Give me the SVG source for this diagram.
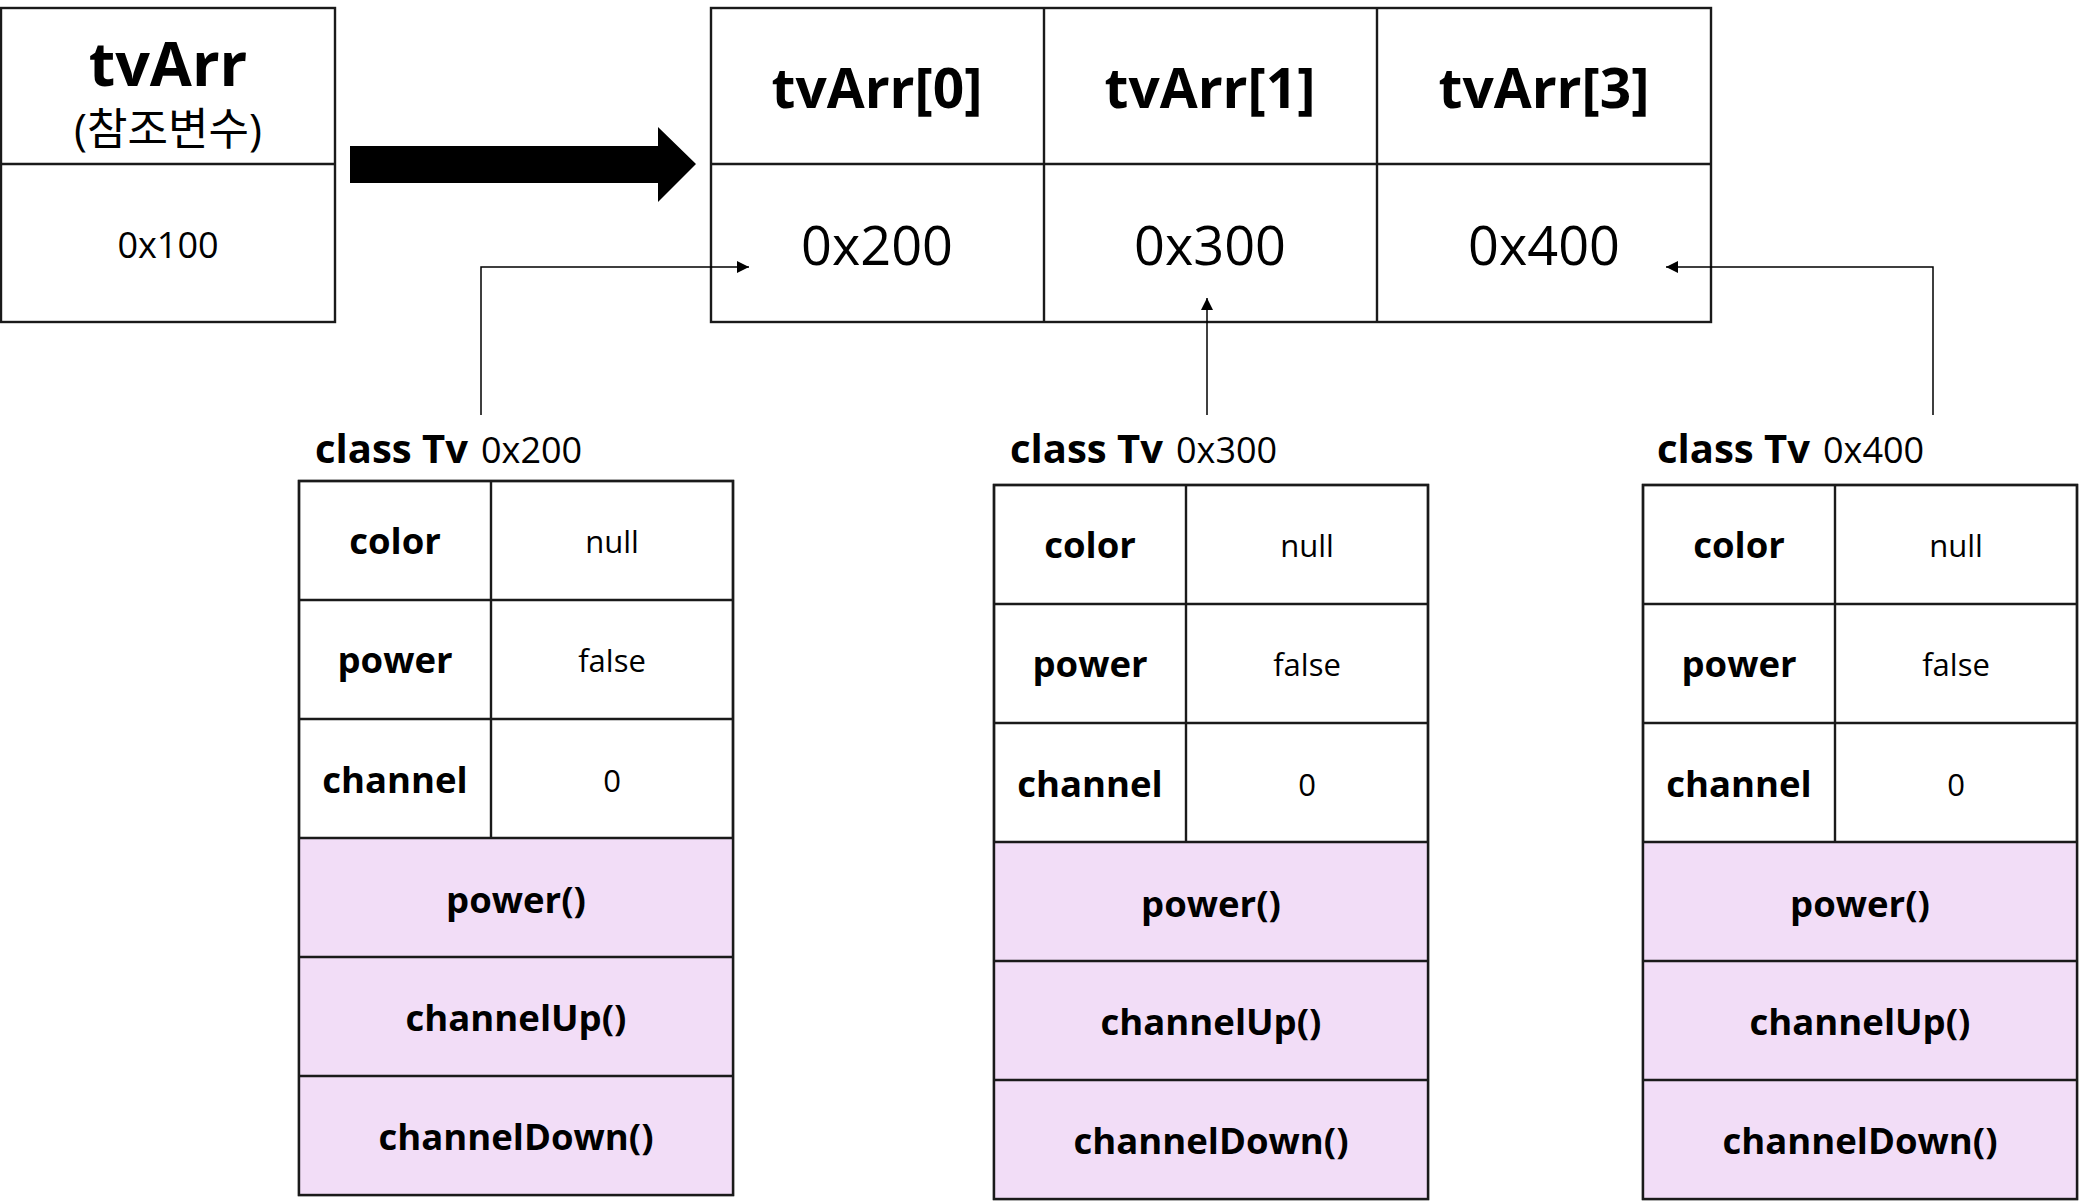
<svg xmlns="http://www.w3.org/2000/svg" width="2079" height="1202" viewBox="0 0 2079 1202">
<style>
text{font-family:"Open Sans","Noto Sans CJK KR",sans-serif;fill:#000;text-anchor:middle}
.b{font-weight:bold}
.box{fill:#fff;stroke:#1a1a1a;stroke-width:2.4}
.ln{stroke:#1a1a1a;stroke-width:2.4;fill:none}
.meth{fill:#f2ddf7}
.lbl{font-size:36.5px;font-weight:bold}
.val{font-size:31px}
.cap{text-anchor:start;font-size:40px;font-weight:bold}
.addr{text-anchor:start;font-size:36px}
.con{stroke:#000;stroke-width:1.5;fill:none}
</style>
<defs>
<marker id="ah" markerUnits="userSpaceOnUse" markerWidth="13" markerHeight="13" refX="12" refY="6" orient="auto">
<path d="M0,0 L12,6 L0,12 z" fill="#000"/>
</marker>
<g id="tbl">
<rect class="box" x="0" y="0" width="434" height="714"/>
<rect class="meth" x="0" y="357" width="434" height="357"/>
<rect class="ln" x="0" y="0" width="434" height="714"/>
<path class="ln" d="M192,0V357M0,119H434M0,238H434M0,357H434M0,476H434M0,595H434"/>
<text class="lbl" x="96" y="73">color</text>
<text class="val" x="313" y="72">null</text>
<text class="lbl" x="96" y="192">power</text>
<text class="val" x="313" y="191">false</text>
<text class="lbl" x="96" y="312">channel</text>
<text class="val" x="313" y="311">0</text>
<text class="lbl" x="217" y="432">power()</text>
<text class="lbl" x="217" y="550">channelUp()</text>
<text class="lbl" x="217" y="669">channelDown()</text>
</g>
</defs>
<g id="tvArr">
<rect class="box" x="1" y="8" width="334" height="314"/>
<path class="ln" d="M1,164H335"/>
<text class="b" x="168" y="86" font-size="61">tvArr</text>
<text x="168" y="145" font-size="44">(참조변수)</text>
<text x="168" y="258" font-size="36">0x100</text>
</g>
<g id="array">
<rect class="box" x="711" y="8" width="1000" height="314"/>
<path class="ln" d="M711,164H1711M1044,8V322M1377,8V322"/>
<text class="b" x="877" y="108" font-size="55">tvArr[0]</text>
<text class="b" x="1210" y="108" font-size="55">tvArr[1]</text>
<text class="b" x="1544" y="108" font-size="55">tvArr[3]</text>
<text x="877" y="265" font-size="54">0x200</text>
<text x="1210" y="265" font-size="54">0x300</text>
<text x="1544" y="265" font-size="54">0x400</text>
</g>
<g id="tv0x200">
<use href="#tbl" x="299" y="481"/>
<text class="cap" x="315" y="463">class Tv</text>
<text class="addr" x="481" y="463">0x200</text>
</g>
<g id="tv0x300">
<use href="#tbl" x="994" y="485"/>
<text class="cap" x="1010" y="463">class Tv</text>
<text class="addr" x="1176" y="463">0x300</text>
</g>
<g id="tv0x400">
<use href="#tbl" x="1643" y="485"/>
<text class="cap" x="1657" y="463">class Tv</text>
<text class="addr" x="1823" y="463">0x400</text>
</g>
<g id="connectors">
<polygon points="350,146 658,146 658,127 696,164 658,202 658,183 350,183" fill="#000"/>
<path class="con" d="M481,415V267H749" marker-end="url(#ah)"/>
<path class="con" d="M1207,415V298" marker-end="url(#ah)"/>
<path class="con" d="M1933,415V267H1666" marker-end="url(#ah)"/>
</g>
</svg>
